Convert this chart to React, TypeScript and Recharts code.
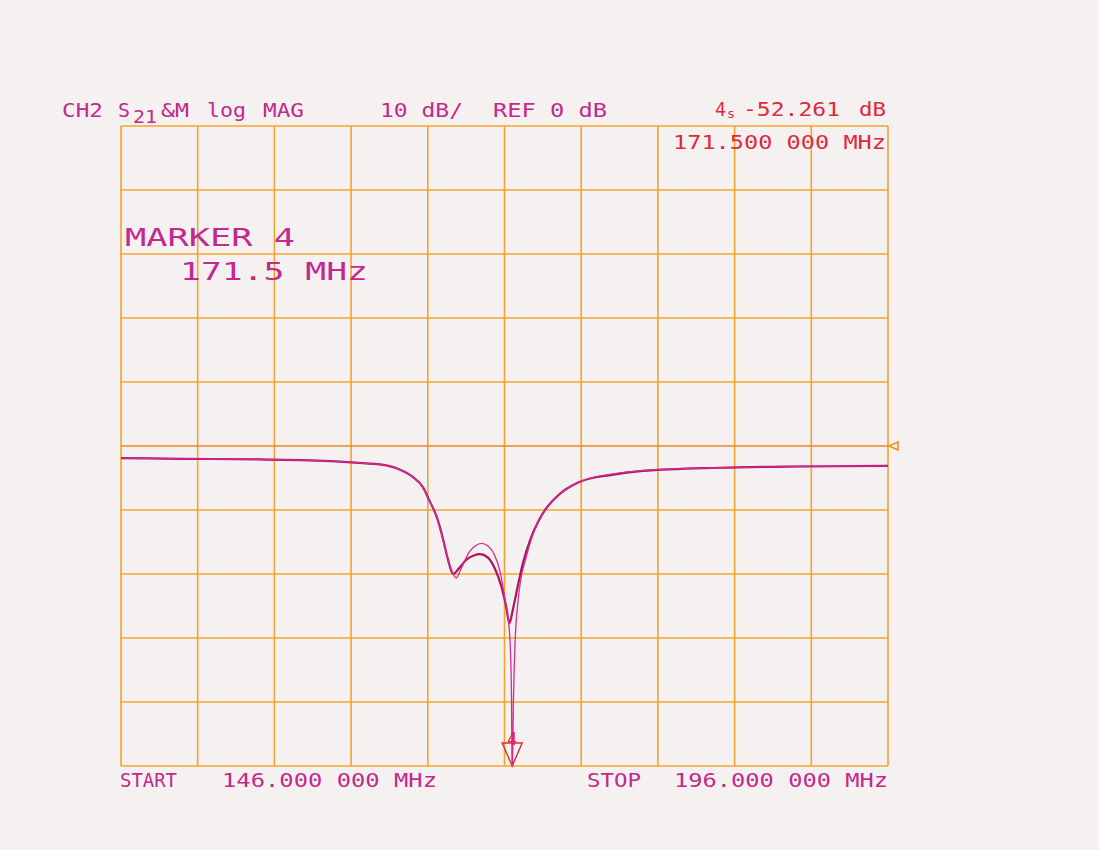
import { Line, LineChart, ReferenceDot, ReferenceLine, XAxis, YAxis } from "recharts";

// S21 trace (thin, deep notch at marker 4)
const dataFreq = [
  146, 150, 155, 160, 162, 163, 164, 165, 165.7, 166.1, 166.6, 167.0, 167.35, 167.85, 168.2, 168.7,
  169.1, 169.5, 169.9, 170.3, 170.7, 171.0, 171.2, 171.35, 171.45, 171.5, 171.58, 171.7, 171.85,
  172.05, 172.4, 172.9, 173.4, 173.9, 174.7, 176, 178, 180, 185, 190, 196,
];
const dataDb = [
  -1.9, -2.0, -2.1, -2.4, -2.7, -2.9, -3.5, -4.8, -6.5, -8.5, -11.2, -14.8, -18.0, -20.6, -19.0, -16.6,
  -15.6, -15.2, -15.6, -16.8, -19.5, -23.5, -26.5, -30, -38, -52.261, -40, -30, -25,
  -21, -17.5, -13.5, -11, -9.3, -7.4, -5.5, -4.4, -3.85, -3.4, -3.2, -3.1,
];

// memory trace (darker, shallow second notch)
const memFreq = [
  146, 150, 155, 160, 162, 163, 164, 165, 165.7, 166.1, 166.6, 167.0, 167.3, 167.65, 168.0, 168.5,
  169.0, 169.4, 169.9, 170.4, 170.8, 171.1, 171.32, 171.55, 171.9, 172.2, 172.7, 173.2, 173.7,
  174.5, 175.8, 178, 180, 185, 190, 196,
];
const memDb = [
  -1.9, -2.0, -2.1, -2.4, -2.7, -2.9, -3.5, -4.8, -6.5, -8.5, -11.2, -14.6, -17.6, -20.0, -19.2, -17.8,
  -17.1, -16.9, -17.4, -19.3, -22.0, -25.0, -27.7, -25.5, -21.5, -18.3, -14.5, -11.8, -9.8,
  -7.7, -5.7, -4.5, -3.9, -3.4, -3.2, -3.1,
];

const freqTicks = [146, 151, 156, 161, 166, 171, 176, 181, 186, 191, 196];
const dbTicks = [-50, -40, -30, -20, -10, 0, 10, 20, 30, 40, 50];
const markerFreq = 171.5;
const refDb = 0;

const dataRows = dataFreq.map((f, i) => ({ f, db: dataDb[i] }));
const memRows = memFreq.map((f, i) => ({ f, db: memDb[i] }));

const MAGENTA = "#c4288c";
const RED = "#de2a3c";
const GRID = "#f3a42c";
const FONT = "'DejaVu Sans Mono', monospace";

function MarkerShape(props: any) {
  const { cx, cy } = props;
  return (
    <g>
      <polygon points={`${cx - 10},${cy - 23} ${cx + 10},${cy - 23} ${cx},${cy}`} fill="none" stroke={RED} strokeWidth={1.4} />
      <text x={cx} y={cy - 21} textAnchor="middle" fontSize={17} fill={RED} fontFamily={FONT}>4</text>
    </g>
  );
}

function RefArrow(props: any) {
  const { cx, cy } = props;
  return <polygon points={`${cx + 1},${cy} ${cx + 10},${cy - 4} ${cx + 10},${cy + 4}`} fill="none" stroke="#f09020" strokeWidth={1.6} />;
}

export default function App() {
  const t = (s: string, x: number, y: number, w: number, size: number, fill: string) => (
    <text x={x} y={y} textLength={w} lengthAdjust="spacingAndGlyphs" fontSize={size} fill={fill} fontFamily={FONT}>
      {s}
    </text>
  );
  return (
    <div style={{ position: "absolute", left: 0, top: 0, width: 1099, height: 850, background: "#f5f1f1", overflow: "hidden" }}>
      <LineChart width={1099} height={850} margin={{ top: 126, right: 211, bottom: 84, left: 121 }}>
        <XAxis type="number" dataKey="f" domain={[146, 196]} ticks={freqTicks} hide allowDataOverflow />
        <YAxis type="number" domain={[-50, 50]} ticks={dbTicks} hide allowDataOverflow />
        {freqTicks.map((f) => (
          <ReferenceLine key={"v" + f} x={f} stroke={GRID} strokeWidth={1.6} />
        ))}
        {dbTicks.map((d) => (
          <ReferenceLine key={"h" + d} y={d} stroke={d === refDb ? "#e8852a" : GRID} strokeWidth={1.6} />
        ))}
        <Line data={memRows} dataKey="db" type="monotone" stroke="#a8165e" strokeWidth={2.2} dot={false} isAnimationActive={false} />
        <Line data={dataRows} dataKey="db" type="monotone" stroke="#d42a90" strokeWidth={1.3} dot={false} isAnimationActive={false} />
        <ReferenceDot x={markerFreq} y={-50} r={0} ifOverflow="visible" shape={MarkerShape} />
        <ReferenceDot x={196} y={refDb} r={0} ifOverflow="visible" shape={RefArrow} />
      </LineChart>
      <svg width={1099} height={850} style={{ position: "absolute", left: 0, top: 0, pointerEvents: "none" }}>
        {t("CH2", 62, 117, 41, 19, MAGENTA)}
        {t("S", 118, 117, 12, 19, MAGENTA)}
        {t("21", 133, 123, 24, 17, MAGENTA)}
        {t("&M", 161, 117, 28, 19, MAGENTA)}
        {t("log", 207, 117, 39, 19, MAGENTA)}
        {t("MAG", 263, 117, 41, 19, MAGENTA)}
        {t("10 dB/", 380, 117, 83, 19, MAGENTA)}
        {t("REF 0 dB", 493, 117, 114, 19, MAGENTA)}
        {t("4", 715, 116, 11, 19, RED)}
        {t("s", 727, 118, 8, 12, RED)}
        {t("-52.261", 743, 116, 97, 19, RED)}
        {t("dB", 859, 116, 27, 19, RED)}
        {t("171.500 000 MHz", 673, 149, 213, 19, RED)}
        {t("MARKER 4", 125, 246, 170, 25, MAGENTA)}
        {t("171.5 MHz", 180, 280, 188, 25, MAGENTA)}
        {t("START", 120, 787, 57, 19, MAGENTA)}
        {t("146.000 000 MHz", 222, 787, 215, 19, MAGENTA)}
        {t("STOP", 587, 787, 54, 19, MAGENTA)}
        {t("196.000 000 MHz", 674, 787, 214, 19, MAGENTA)}
      </svg>
    </div>
  );
}
